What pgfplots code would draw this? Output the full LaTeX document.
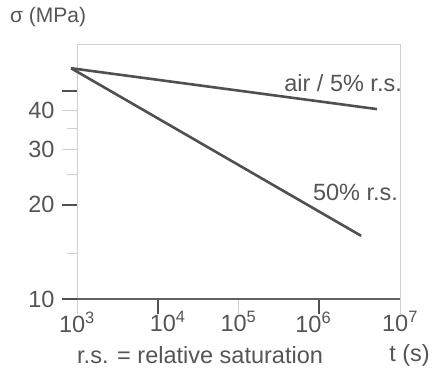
\documentclass[border=0pt]{standalone}
\usepackage{fontspec}
\setmainfont{Liberation Sans}
\usepackage{pgfplots}
\pgfplotsset{compat=1.18}
\definecolor{ln}{HTML}{505050}
\definecolor{txt}{HTML}{555555}
\definecolor{frm}{HTML}{D0D0D0}
\begin{document}
\begin{tikzpicture}
\begin{axis}[
  name=ax,
  scale only axis, width=323pt, height=255pt,
  xmode=log, ymode=log,
  xmin=1e3, xmax=1e7, ymin=10, ymax=65,
  clip=false,
  axis line style={frm, line width=0.6pt},
  tick pos=left, tick align=outside,
  major tick length=15pt,
  minor tick length=10pt,
  major tick style={draw=frm, line width=0.8pt},
  minor tick style={draw=frm, line width=0.8pt},
  xtick={1e3,1e5,1e7},
  xticklabels={10\textsuperscript{3},10\textsuperscript{5},10\textsuperscript{7}},
  extra x ticks={1e4,1e6},
  extra x tick labels={\hspace*{20pt}10\textsuperscript{4},10\textsuperscript{6}\hspace*{12pt}},
  extra x tick style={major tick style={draw=ln, line width=2pt}},
  ytick={30,40},
  yticklabels={30,40},
  minor ytick={14,25,35},
  extra y ticks={10,20,46},
  extra y tick labels={10,20,{}},
  extra y tick style={major tick style={draw=ln, line width=2pt}},
  tick label style={font=\fontsize{23.5}{26}\selectfont, text=txt},
  xticklabel style={yshift=6pt},
  yticklabel style={xshift=-4pt},
]
\draw[ln!90, line width=2.5pt] (axis cs:1e3,10) -- (axis cs:1e7,10);
\addplot[ln, line width=2.6pt] coordinates {(845,54.4) (5.2e6,40.3)};
\addplot[ln, line width=2.6pt] coordinates {(845,54.4) (3.3e6,15.9)};
\node[anchor=east, text=txt, font=\fontsize{23.5}{26}\selectfont, inner sep=0pt] at (axis cs:1.06e7,48.7) {air / 5\% r.s.};
\node[anchor=east, text=txt, font=\fontsize{23.5}{26}\selectfont, inner sep=0pt] at (axis cs:9.5e6,21.8) {50\% r.s.};
\end{axis}
\node[anchor=west, text=txt, font=\fontsize{21}{24}\selectfont, inner sep=0pt] at (-67pt,282pt) {σ (MPa)};
\node[anchor=west, text=txt, font=\fontsize{23.5}{26}\selectfont, inner sep=0pt] at (0pt,-56pt) {r.s. = relative saturation};
\node[anchor=east, text=txt, font=\fontsize{23.5}{26}\selectfont, inner sep=0pt] at (353pt,-56pt) {t (s)};
\pgfresetboundingbox
\path (-77pt,-70pt) rectangle (355pt,299pt);
\end{tikzpicture}
\end{document}
